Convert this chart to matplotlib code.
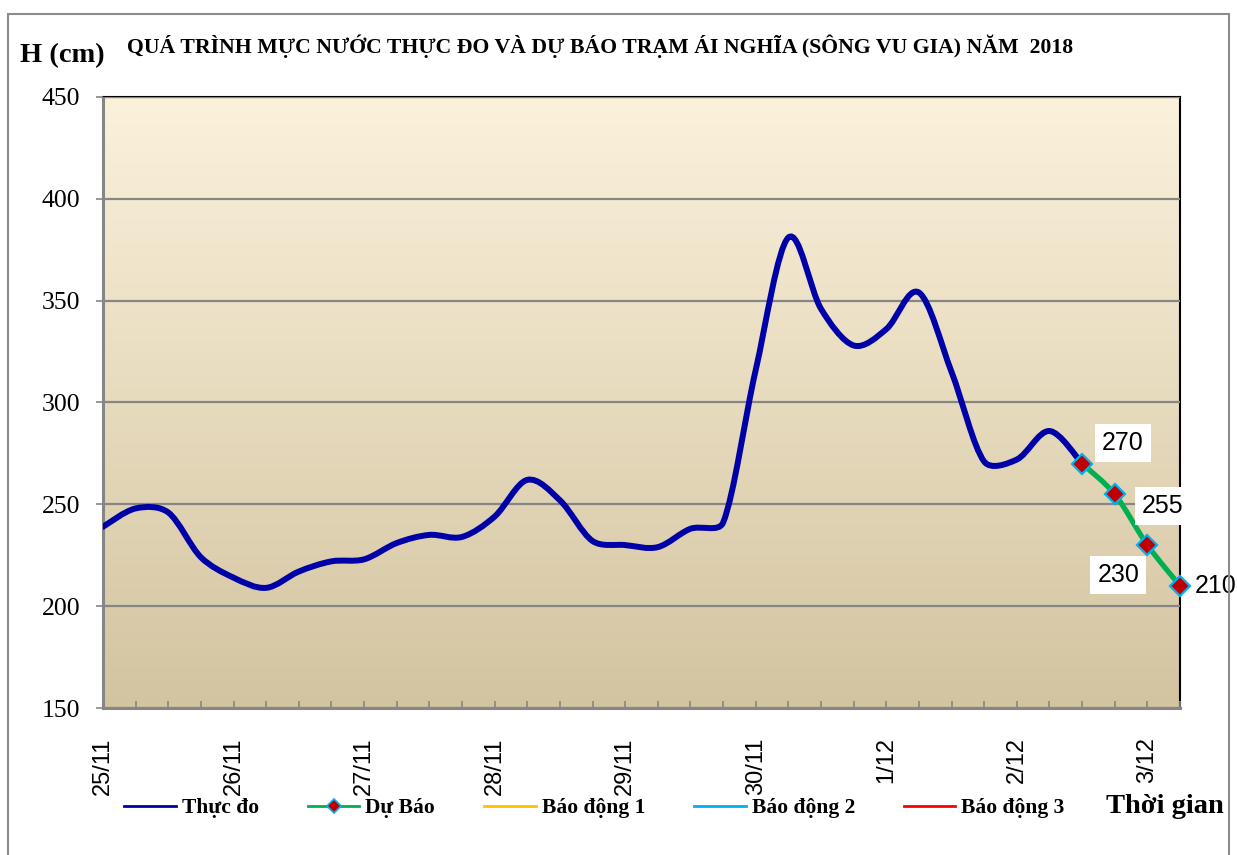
import numpy as np
import matplotlib
matplotlib.use("Agg")
import matplotlib.pyplot as plt
from matplotlib.path import Path
from matplotlib.patches import PathPatch, Rectangle
from matplotlib.lines import Line2D

# 6-hourly water levels (cm), index 0 = 25/11 00h
observed = [239, 248, 246, 224, 214, 209, 217, 222, 223, 231, 235, 234,
            244, 262, 252, 232, 230, 229, 238, 241, 316, 381, 346, 328,
            336, 354, 315, 271, 272, 286, 270]
forecast = [270, 255, 230, 210]
forecast_start = 30
day_labels = ["25/11", "26/11", "27/11", "28/11", "29/11",
              "30/11", "1/12", "2/12", "3/12"]
alarm_levels = [650, 800, 900]   # BĐ1, BĐ2, BĐ3 (ngoài khung hình)
label_offsets = [(41, 21), (48, -12), (-29, -30), (36, 0)]

SERIF = "Liberation Serif"
SANS = "Liberation Sans"

W, H = 1237, 855
AX_L, AX_R, AX_T, AX_B = 103, 1180, 97, 708


def smooth_path(x, y, sx, sy):
    """Bezier path through the points (smoothed line); sx, sy = px per unit."""
    pts = np.column_stack([np.asarray(x) * sx, np.asarray(y) * sy]).astype(float)
    n = len(pts)
    verts = [pts[0]]
    codes = [Path.MOVETO]
    for i in range(n - 1):
        p0 = pts[max(i - 1, 0)]
        p1, p2 = pts[i], pts[i + 1]
        p3 = pts[min(i + 2, n - 1)]
        seg = np.hypot(*(p2 - p1))
        t1 = (p2 - p0) / 6.0
        t2 = (p3 - p1) / 6.0
        # keep control arms short next to a much longer segment
        for tv in (t1, t2):
            m = np.hypot(*tv)
            if m > seg / 3.0:
                tv *= seg / 3.0 / m
        verts += [p1 + t1, p2 - t2, p2]
        codes += [Path.CURVE4] * 3
    verts = np.array(verts) / [sx, sy]
    return Path(verts, codes)


fig = plt.figure(figsize=(W / 100, H / 100), dpi=100)
ax = fig.add_axes([AX_L / W, 1 - AX_B / H, (AX_R - AX_L) / W, (AX_B - AX_T) / H])

# gradient background of plot area
top = np.array([251, 242, 220]) / 255
bot = np.array([211, 196, 160]) / 255
t = np.linspace(0, 1, 256)[:, None]
grad = (top * (1 - t) + bot * t)[:, None, :]
ax.imshow(grad, extent=[0, 1, 0, 1], transform=ax.transAxes,
          aspect="auto", zorder=0)

n_total = forecast_start + len(forecast)
ymin, ymax = 150, 450
sx = (AX_R - AX_L) / (n_total - 1)
sy = (AX_B - AX_T) / (ymax - ymin)

x_obs = np.arange(len(observed))
x_fc = np.arange(forecast_start, n_total)

ax.add_patch(PathPatch(smooth_path(x_obs, observed, sx, sy), fill=False,
                       edgecolor="#0000A8", lw=4.3, zorder=3,
                       capstyle="round", joinstyle="round"))
ax.add_patch(PathPatch(smooth_path(x_fc, forecast, sx, sy), fill=False,
                       edgecolor="#00B050", lw=3.8, zorder=4,
                       capstyle="round"))
ax.plot(x_fc, forecast, ls="none", marker="D", ms=10.5,
        mfc="#C00000", mec="#00B0F0", mew=1.6, zorder=5, clip_on=False)

alarm_colors = ["#FFC000", "#00B0F0", "#FF0000"]
for lvl, c in zip(alarm_levels, alarm_colors):
    ax.axhline(lvl, color=c, lw=2)

for i, (xv, yv) in enumerate(zip(x_fc, forecast)):
    dx, dy = label_offsets[i]
    box = dict(fc="white", ec="none", pad=5) if i < 3 else None
    ax.annotate(str(yv), (xv, yv), xytext=(dx * 0.72, dy * 0.72),
                textcoords="offset points", ha="center", va="center",
                fontsize=18, family=SANS, bbox=box, zorder=6,
                annotation_clip=False)

ax.set_xlim(0, n_total - 1)
ax.set_ylim(ymin, ymax)
ax.set_yticks(np.arange(ymin, ymax + 1, 50))
ax.grid(axis="y", color="#868686", lw=1.6)
ax.set_axisbelow(False)
for gl in ax.get_ygridlines():
    gl.set_zorder(1)

ax.set_xticks(np.arange(n_total), minor=True)
ax.set_xticks(np.arange(0, n_total, 4))
ax.set_xticklabels(day_labels, rotation=90, family=SANS, fontsize=17)
ax.tick_params(axis="x", which="both", direction="in", length=5,
               color="#868686", width=1.2, pad=21)
ax.tick_params(axis="y", direction="out", length=5, color="#868686",
               width=1.2, pad=11.5, labelsize=18.5)
for lab in ax.get_yticklabels():
    lab.set_family(SERIF)

for s in ["left", "bottom"]:
    ax.spines[s].set_color("#868686")
    ax.spines[s].set_linewidth(2.2)
for s in ["top", "right"]:
    ax.spines[s].set_color("black")
    ax.spines[s].set_linewidth(1.5)

fig.text(20 / W, 1 - 56 / H, "H (cm)", family=SERIF, weight="bold",
         fontsize=20.5, va="center", ha="left")
fig.text(600 / W, 1 - 46 / H,
         "QUÁ TRÌNH MỰC NƯỚC THỰC ĐO VÀ DỰ BÁO TRẠM ÁI NGHĨA (SÔNG VU GIA) NĂM  2018",
         family=SERIF, weight="bold", fontsize=15.7, va="center", ha="center")
fig.text(1106 / W, 1 - 806 / H, "Thời gian", family=SERIF,
         weight="bold", fontsize=20.5, va="center", ha="left")

handles = [
    Line2D([], [], color="#0000A8", lw=2),
    Line2D([], [], color="#00B050", lw=2, marker="D", ms=7,
           mfc="#C00000", mec="#00B0F0", mew=1.2),
    Line2D([], [], color="#FFC000", lw=2),
    Line2D([], [], color="#00B0F0", lw=2),
    Line2D([], [], color="#FF0000", lw=2),
]
names = ["Thực đo", "Dự Báo", "Báo động 1", "Báo động 2", "Báo động 3"]
fig.legend(handles, names, loc="center left", ncol=5, frameon=False,
           bbox_to_anchor=(124 / W, 1 - 808 / H),
           prop=dict(family=SERIF, weight="bold", size=15.5),
           handlelength=2.4, columnspacing=2.27, handletextpad=0.28,
           borderpad=0, borderaxespad=0)

fig.add_artist(Rectangle((8 / W, -0.05), 1221 / W, 1 - 14 / H + 0.05,
                         transform=fig.transFigure, fill=False,
                         ec="#8C8C8C", lw=1.5))

fig.savefig("out.png", dpi=100)
